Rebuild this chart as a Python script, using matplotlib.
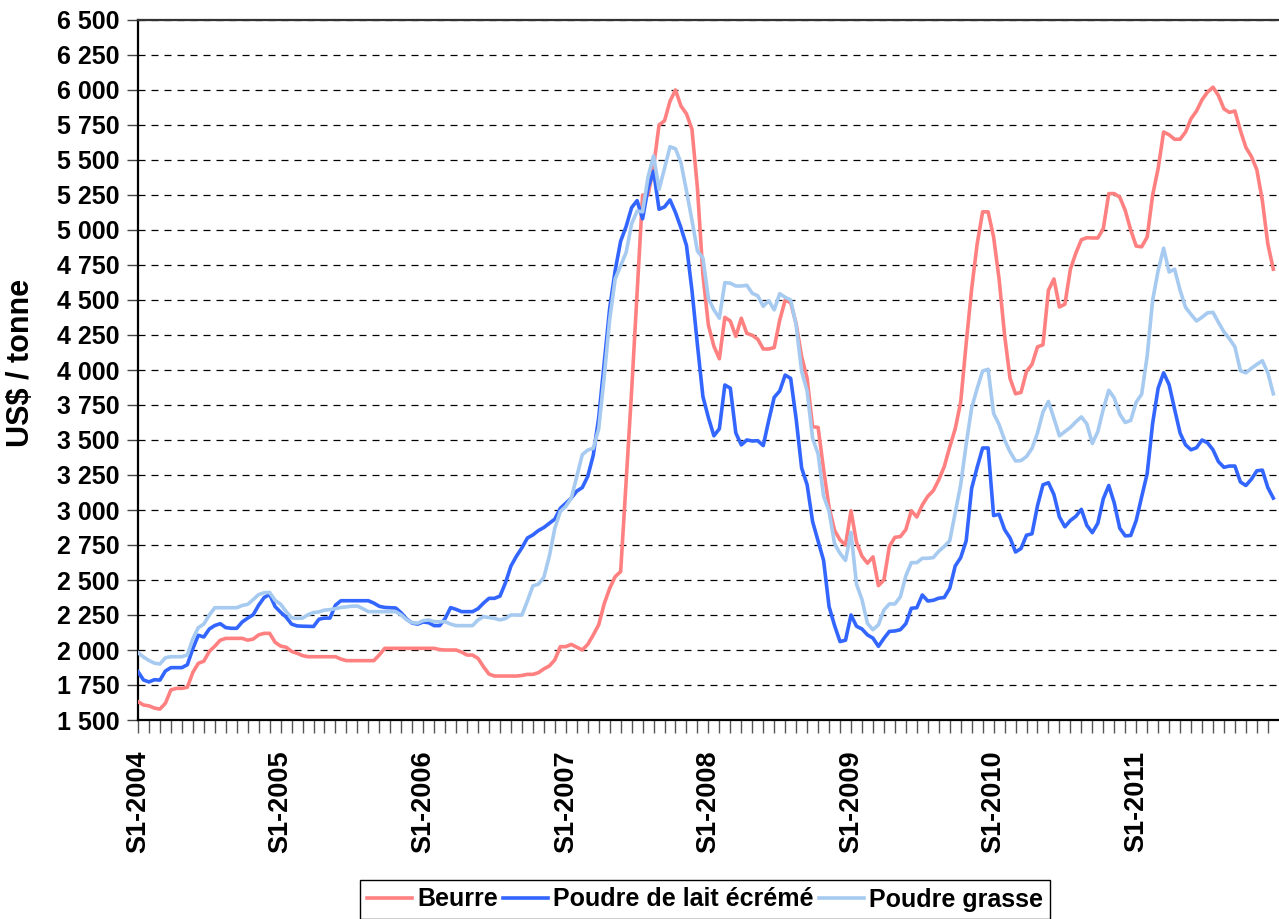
import matplotlib
matplotlib.use('Agg')
import matplotlib.pyplot as plt
import numpy as np

plt.rcParams['font.family'] = ['Liberation Sans', 'DejaVu Sans']
plt.rcParams['font.weight'] = 'bold'

# Biweekly quotations, first point = S1-2004
start_year = 2004
points_per_year = 26
years = list(range(2004, 2012))

# US$ / tonne
beurre = [
    1631, 1607, 1601, 1585, 1578, 1620, 1715, 1726, 1726, 1734,
    1840, 1905, 1920, 1990, 2027, 2070, 2083, 2083, 2083, 2083,
    2070, 2078, 2108, 2119, 2119, 2055, 2028, 2020, 1990, 1977,
    1960, 1952, 1952, 1952, 1952, 1952, 1952, 1935, 1924, 1924,
    1924, 1924, 1924, 1924, 1965, 2012, 2012, 2012, 2012, 2012,
    2012, 2012, 2012, 2012, 2012, 2003, 2000, 2000, 2000, 1985,
    1964, 1964, 1940, 1880, 1828, 1814, 1814, 1814, 1814, 1814,
    1818, 1826, 1826, 1838, 1865, 1886, 1930, 2024, 2024, 2040,
    2020, 2000, 2040, 2107, 2180, 2330, 2440, 2524, 2560, 3200,
    3850, 4550, 5250, 5250, 5450, 5750, 5780, 5920, 6000, 5885,
    5830, 5720, 5300, 4680, 4320, 4170, 4080, 4376, 4350, 4240,
    4370, 4262, 4248, 4220, 4150, 4150, 4160, 4355, 4500, 4480,
    4330, 4095, 3940, 3595, 3590, 3290, 3020, 2855, 2786, 2750,
    2995, 2770, 2670, 2620, 2665, 2460, 2500, 2740, 2805, 2810,
    2860, 2995, 2950, 3036, 3098, 3138, 3215, 3310, 3450, 3580,
    3770, 4190, 4580, 4900, 5130, 5130, 4950, 4650, 4250, 3940,
    3830, 3840, 3990, 4040, 4165, 4180, 4570, 4650, 4450, 4470,
    4720, 4835, 4930, 4945, 4943, 4943, 5010, 5260, 5260, 5235,
    5140, 5000, 4885, 4880, 4950, 5250, 5440, 5700, 5680, 5648,
    5648, 5700, 5795, 5850, 5930, 5985, 6020, 5960, 5865, 5840,
    5850, 5710, 5590, 5525, 5430, 5210, 4900, 4720,
]
poudre_ecreme = [
    1845, 1786, 1772, 1788, 1785, 1850, 1874, 1874, 1874, 1895,
    2010, 2105, 2093, 2150, 2175, 2188, 2160, 2155, 2155, 2200,
    2228, 2252, 2320, 2375, 2397, 2310, 2270, 2235, 2185, 2172,
    2170, 2169, 2168, 2220, 2228, 2228, 2320, 2352, 2352, 2352,
    2352, 2352, 2352, 2335, 2312, 2304, 2302, 2300, 2265, 2220,
    2192, 2185, 2200, 2195, 2174, 2174, 2225, 2303, 2290, 2274,
    2274, 2274, 2295, 2335, 2369, 2369, 2385, 2480, 2600, 2670,
    2730, 2800, 2822, 2853, 2875, 2905, 2935, 3012, 3048, 3085,
    3135, 3160, 3240, 3390, 3660, 4050, 4440, 4710, 4920, 5025,
    5160, 5210, 5080, 5300, 5420, 5148, 5165, 5215, 5125, 5015,
    4890, 4570, 4180, 3810, 3660, 3530, 3580, 3893, 3870, 3550,
    3465, 3500, 3493, 3495, 3460, 3640, 3805, 3850, 3964, 3940,
    3650, 3300, 3180, 2917, 2778, 2640, 2310, 2175, 2060, 2070,
    2250, 2170, 2150, 2108, 2085, 2026, 2083, 2133, 2136, 2145,
    2188, 2298, 2302, 2393, 2350, 2355, 2370, 2375, 2440, 2600,
    2660, 2780, 3155, 3305, 3443, 3443, 2960, 2970, 2860, 2800,
    2700, 2725, 2820, 2830, 3030, 3180, 3195, 3110, 2950, 2880,
    2925, 2955, 3005, 2890, 2838, 2905, 3080, 3175, 3050, 2870,
    2815, 2818, 2925, 3095, 3260, 3620, 3870, 3980, 3895, 3720,
    3550, 3465, 3430, 3445, 3500, 3480, 3430, 3345, 3305, 3314,
    3314, 3200, 3175, 3220, 3280, 3285, 3160, 3085,
]
poudre_grasse = [
    1981, 1950, 1925, 1906, 1900, 1945, 1952, 1952, 1952, 1965,
    2080, 2160, 2185, 2250, 2302, 2302, 2302, 2302, 2302, 2318,
    2326, 2360, 2396, 2409, 2411, 2355, 2327, 2275, 2230, 2226,
    2228, 2252, 2268, 2272, 2285, 2288, 2295, 2304, 2308, 2313,
    2314, 2295, 2274, 2274, 2274, 2274, 2274, 2274, 2250, 2215,
    2195, 2192, 2210, 2215, 2202, 2202, 2202, 2185, 2174, 2174,
    2174, 2174, 2215, 2238, 2232, 2226, 2215, 2225, 2250, 2250,
    2250, 2350, 2458, 2470, 2520, 2670, 2870, 2990, 3026, 3085,
    3238, 3395, 3428, 3440, 3580, 3950, 4360, 4650, 4745, 4840,
    5045, 5135, 5130, 5380, 5530, 5290, 5440, 5595, 5580, 5480,
    5280, 5070, 4850, 4800, 4510, 4430, 4370, 4624, 4620, 4600,
    4600, 4605, 4548, 4530, 4455, 4495, 4430, 4545, 4519, 4500,
    4320, 3990, 3850, 3512, 3400, 3100, 2990, 2760, 2690, 2640,
    2840, 2470, 2360, 2190, 2145, 2180, 2286, 2329, 2329, 2380,
    2530, 2624, 2624, 2655, 2655, 2660, 2705, 2740, 2780, 2980,
    3180, 3470, 3730, 3868, 3993, 4005, 3690, 3610, 3500, 3415,
    3350, 3353, 3382, 3440, 3550, 3700, 3775, 3655, 3530, 3560,
    3590, 3630, 3665, 3615, 3475, 3560, 3720, 3855, 3800, 3685,
    3625, 3640, 3770, 3828, 4100, 4500, 4710, 4870, 4700, 4720,
    4570, 4447, 4397, 4350, 4377, 4408, 4412, 4340, 4272, 4223,
    4165, 3995, 3980, 4012, 4040, 4066, 3980, 3830,
]

x = start_year + np.arange(len(beurre)) / points_per_year

W, H = 1279, 919
fig = plt.figure(figsize=(W / 100, H / 100), dpi=100)
ax = fig.add_axes([138 / W, 1 - 720 / H, 1140 / W, 700 / H])

ax.plot(x, beurre, color='#FF8080', lw=2.6, label='Beurre', zorder=3)
ax.plot(x, poudre_ecreme, color='#3366FF', lw=2.6, label='Poudre de lait écrémé', zorder=3)
ax.plot(x, poudre_grasse, color='#A6CAF0', lw=2.6, label='Poudre grasse', zorder=3)

# Axes
ax.set_xlim(start_year, start_year + 1140 / 142.6)
ax.set_ylim(1500, 6500)

yticks = list(range(1500, 6501, 250))
ax.set_yticks(yticks)
ax.set_yticklabels([f'{v:,}'.replace(',', ' ') for v in yticks], fontsize=18, fontweight='bold')

# one tick every 2 quotations, labels only at the start of each year
xticks = start_year + np.arange(0, len(years) * 13) * 2 / points_per_year
xlabels = [f'S1-{years[k // 13]}' if k % 13 == 0 else '' for k in range(len(xticks))]
ax.set_xticks(xticks)
ax.set_xticklabels(xlabels, rotation=90, fontsize=19.5, fontweight='bold')

ax.tick_params(axis='y', direction='out', length=8, width=1, color='#444444', pad=5)
ax.tick_params(axis='x', direction='out', length=9, width=1, color='#555555', pad=13)

# Grid
ax.grid(axis='y', color='black', linestyle=(0, (5.6, 4.8)), linewidth=0.9)
ax.set_axisbelow(True)

# Spines
ax.spines['right'].set_visible(False)
ax.spines['left'].set_linewidth(1.6)
ax.spines['bottom'].set_linewidth(1.6)
ax.spines['top'].set_linewidth(1.6)
ax.spines['top'].set_color('#333333')

# Labels
fig.text(21 / W, 1 - 363 / H, 'US$ / tonne', rotation=90, ha='center', va='center',
         fontsize=22, fontweight='bold')

# Legend
leg = fig.legend(loc='lower center', bbox_to_anchor=(705 / W, 0), ncol=3,
                 prop={'weight': 'bold', 'size': 18}, frameon=True, fancybox=False,
                 edgecolor='black', framealpha=1, handlelength=1.8, handletextpad=0.2,
                 columnspacing=0.2, borderpad=0.3, borderaxespad=0)
leg.get_frame().set_linewidth(1.0)

fig.savefig('out.png', dpi=100)
